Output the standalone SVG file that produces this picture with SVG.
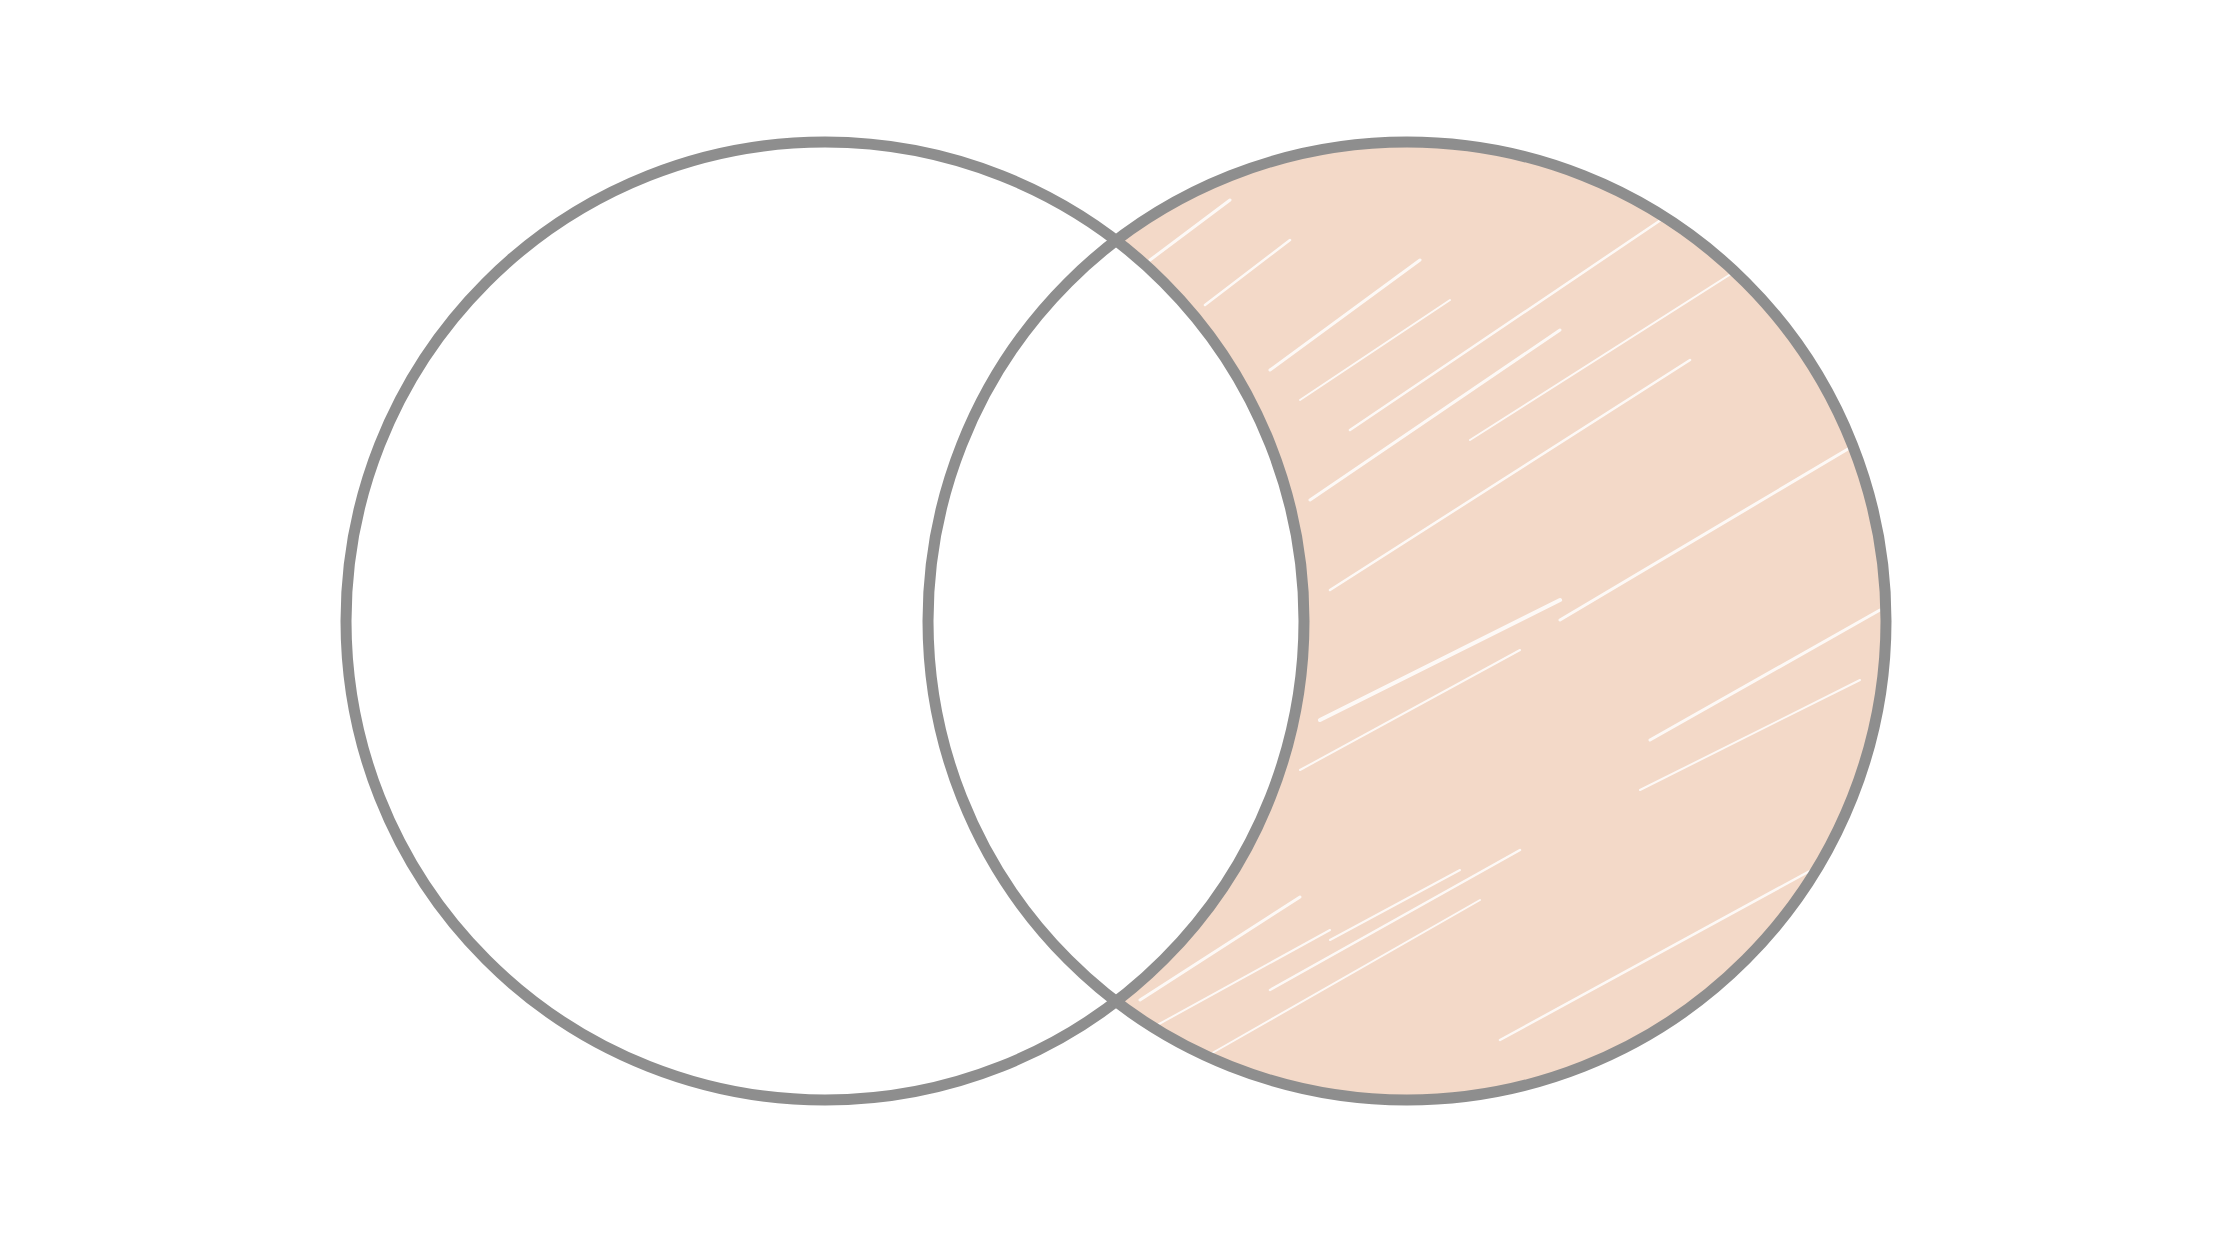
<svg xmlns="http://www.w3.org/2000/svg" width="2240" height="1260" viewBox="0 0 2240 1260">
  <style>
    .ring { fill: none; stroke: #8e8e8e; stroke-width: 11; }
    .streak { stroke: #ffffff; stroke-linecap: round; opacity: 0.85; }
  </style>
  <defs>
    <mask id="onlyB">
      <rect x="0" y="0" width="2240" height="1260" fill="black"/>
      <circle cx="1407" cy="621" r="479" fill="white"/>
      <circle cx="825" cy="621" r="479" fill="black"/>
    </mask>
  </defs>
  <rect x="0" y="0" width="2240" height="1260" fill="#ffffff"/>
  <g id="shade" mask="url(#onlyB)">
    <rect x="900" y="130" width="1000" height="990" fill="#f3d9c8"/>
    <g class="streak">
      <line x1="1150" y1="260" x2="1230" y2="200" stroke-width="3"/>
      <line x1="1205" y1="305" x2="1290" y2="240" stroke-width="2.5"/>
      <line x1="1270" y1="370" x2="1420" y2="260" stroke-width="3"/>
      <line x1="1300" y1="400" x2="1450" y2="300" stroke-width="2"/>
      <line x1="1350" y1="430" x2="1720" y2="180" stroke-width="2.5"/>
      <line x1="1310" y1="500" x2="1560" y2="330" stroke-width="3"/>
      <line x1="1470" y1="440" x2="1800" y2="230" stroke-width="2"/>
      <line x1="1330" y1="590" x2="1690" y2="360" stroke-width="2.5"/>
      <line x1="1320" y1="720" x2="1560" y2="600" stroke-width="4"/>
      <line x1="1300" y1="770" x2="1520" y2="650" stroke-width="2"/>
      <line x1="1560" y1="620" x2="1880" y2="430" stroke-width="3"/>
      <line x1="1650" y1="740" x2="1880" y2="610" stroke-width="3"/>
      <line x1="1640" y1="790" x2="1860" y2="680" stroke-width="2"/>
      <line x1="1140" y1="1000" x2="1300" y2="897" stroke-width="3"/>
      <line x1="1130" y1="1040" x2="1330" y2="930" stroke-width="2"/>
      <line x1="1270" y1="990" x2="1520" y2="850" stroke-width="2.5"/>
      <line x1="1200" y1="1060" x2="1480" y2="900" stroke-width="2"/>
      <line x1="1500" y1="1040" x2="1830" y2="860" stroke-width="2.5"/>
      <line x1="1560" y1="1080" x2="1790" y2="950" stroke-width="2"/>
      <line x1="1330" y1="940" x2="1460" y2="870" stroke-width="2"/>
    </g>
  </g>
  <g id="setA">
    <circle class="ring" cx="825" cy="621" r="479"/>
  </g>
  <g id="setB">
    <circle class="ring" cx="1407" cy="621" r="479"/>
  </g>
</svg>
